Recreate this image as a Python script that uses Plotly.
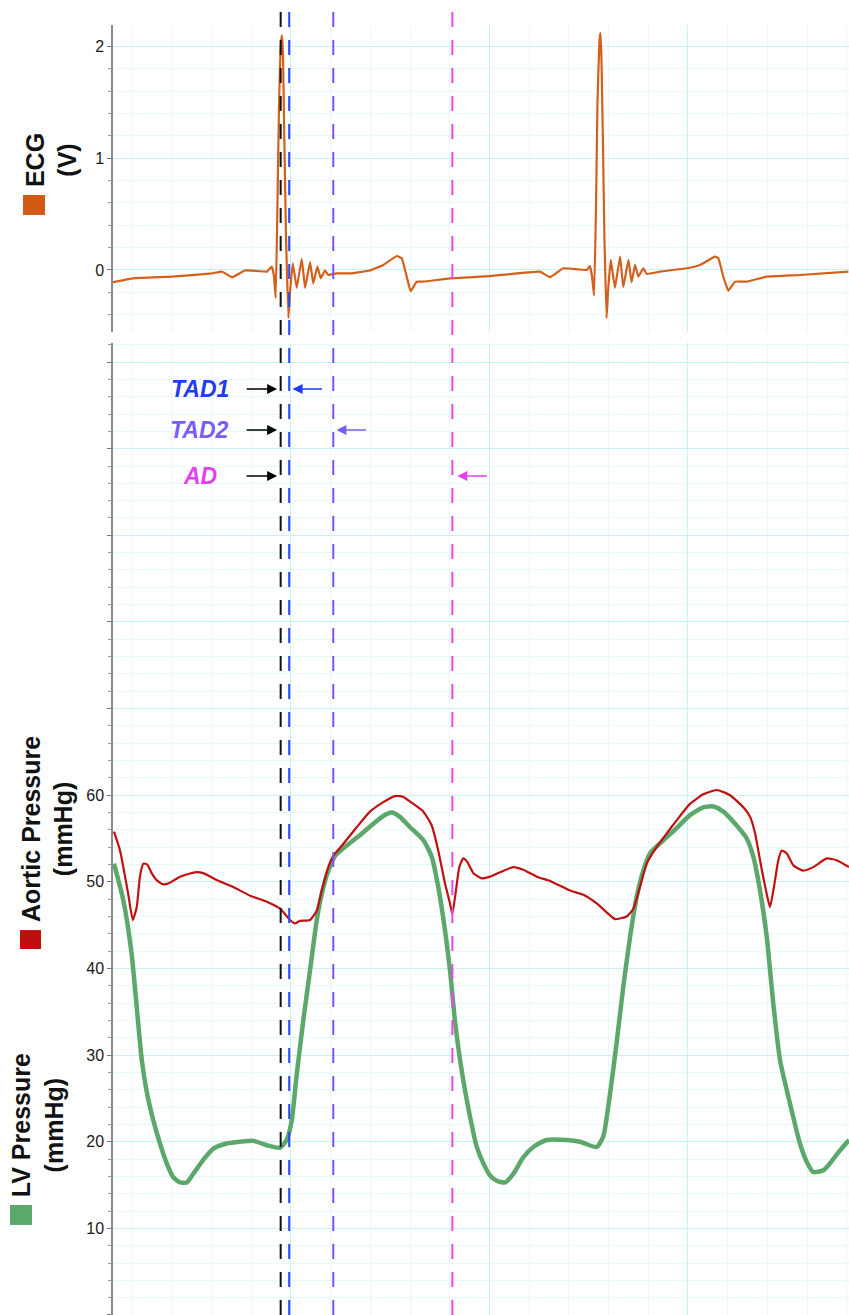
import plotly.graph_objects as go

# ---------------- data (time in ms) ----------------
ecg_t = [10.3, 20.4, 40.1, 60.2, 65.2, 70.3, 76.8, 83.4, 87.9, 90.3, 91.4, 92.3, 93.2, 94.0, 95.0, 95.5,
         96.0, 96.7, 97.5, 98.7, 99.5, 100.9, 102.9, 105.4, 107.1, 109.6, 111.2, 113.3, 115.0, 117.1,
         118.8, 123.0, 129.7, 139.8, 146.5, 153.3, 155.8, 158.3, 160.3, 163.3, 166.7, 180.1, 200.3,
         225.4, 230.5, 237.2, 249.0, 250.6, 251.6, 252.7, 253.7, 254.4, 255.4, 255.9, 256.4, 257.2,
         257.9, 259.0, 259.7, 261.1, 263.2, 265.8, 267.4, 270.0, 271.6, 273.3, 275.0, 277.5, 279.2,
         285.9, 299.4, 306.1, 313.6, 315.3, 317.8, 320.3, 323.7, 329.6, 339.7, 356.4, 380.8]
ecg_v = [-0.11, -0.075, -0.06, -0.03, -0.015, -0.065, -0.005, -0.01, -0.015, 0.03, -0.05, -0.25, 0.6,
         1.5, 2.05, 2.1, 1.9, 1.1, 0.3, -0.43, -0.2, 0.06, -0.16, 0.10, -0.16, 0.07, -0.12, 0.03,
         -0.075, -0.005, -0.045, -0.03, -0.03, -0.005, 0.045, 0.125, 0.105, -0.06, -0.19, -0.105,
         -0.105, -0.075, -0.055, -0.015, -0.065, 0.015, 0.0, 0.035, -0.05, -0.23, 0.6, 1.5, 2.05,
         2.12, 1.9, 1.1, 0.3, -0.43, -0.2, 0.09, -0.16, 0.12, -0.155, 0.09, -0.11, 0.045, -0.06,
         0.015, -0.035, -0.015, 0.015, 0.045, 0.12, 0.105, -0.06, -0.185, -0.105, -0.105, -0.06,
         -0.045, -0.015]

aortic_t = [10.8, 13.9, 18.0, 20.3, 22.3, 23.9, 25.6, 27.6, 29.8, 32.3, 35.7, 39.0, 44.1, 51.6, 55.8,
            62.6, 70.9, 79.4, 87.8, 94.5, 99.5, 102.0, 104.5, 109.6, 113.0, 115.5, 118.8, 121.3,
            126.4, 133.1, 139.8, 146.5, 152.4, 156.6, 161.6, 166.7, 170.9, 174.2, 177.6, 180.1,
            181.3, 183.1, 184.8, 186.8, 188.8, 191.9, 196.1, 200.3, 205.3, 212.0, 217.0, 223.8,
            230.5, 240.6, 247.3, 254.0, 259.9, 263.2, 269.1, 272.5, 275.8, 279.2, 284.2, 289.3,
            294.3, 301.0, 307.7, 314.5, 321.2, 327.9, 331.3, 333.8, 336.3, 339.3, 341.3, 343.3,
            345.5, 347.2, 349.7, 353.1, 358.1, 363.1, 369.9, 374.9, 381.1]
aortic_p = [55.8, 53.6, 48.6, 45.6, 47.1, 50.6, 52.1, 52.0, 51.0, 50.2, 49.7, 49.9, 50.6, 51.1, 51.0,
            50.2, 49.4, 48.4, 47.7, 46.9, 45.6, 45.2, 45.5, 45.6, 46.7, 49.0, 51.7, 53.0, 54.4,
            56.3, 58.1, 59.2, 59.9, 59.8, 59.0, 58.1, 56.5, 53.6, 49.8, 47.5, 46.3, 49.0, 51.7,
            52.7, 52.3, 51.0, 50.4, 50.6, 51.1, 51.7, 51.4, 50.6, 50.1, 49.0, 48.5, 47.5, 46.3,
            45.7, 46.0, 46.9, 49.4, 52.1, 54.0, 55.6, 57.1, 59.0, 60.1, 60.6, 60.0, 58.6, 57.5,
            55.6, 52.5, 49.0, 47.1, 49.4, 52.5, 53.6, 53.3, 51.9, 51.3, 51.7, 52.7, 52.5, 51.7]

lv_t = [10.8, 15.5, 19.7, 21.9, 24.8, 27.3, 30.6, 34.0, 37.4, 40.7, 44.1, 47.5, 50.8, 55.8, 60.9, 67.6,
        74.3, 81.0, 87.8, 94.5, 97.8, 100.4, 102.9, 106.2, 109.6, 113.0, 115.5, 118.8, 122.2, 128.1,
        134.8, 141.5, 146.5, 150.7, 154.9, 160.0, 166.7, 170.9, 174.2, 177.6, 180.1, 182.6, 186.0,
        190.2, 193.6, 196.9, 200.3, 203.6, 207.8, 212.0, 217.0, 222.1, 228.8, 238.9, 245.6, 254.0,
        257.3, 260.7, 264.1, 267.4, 270.8, 274.2, 277.5, 280.9, 287.6, 294.3, 301.0, 307.7, 312.8,
        317.8, 324.5, 329.6, 332.9, 336.3, 339.7, 343.0, 346.4, 351.4, 356.4, 359.8, 363.1, 368.2,
        371.5, 376.6, 381.1]
lv_p = [52.1, 47.9, 41.7, 36.5, 29.5, 25.8, 22.5, 19.8, 17.5, 15.9, 15.3, 15.3, 16.3, 17.9, 19.2, 19.8,
        20.0, 20.1, 19.6, 19.3, 20.2, 22.5, 27.8, 34.0, 39.8, 45.6, 48.6, 51.3, 53.0, 54.2, 55.4,
        56.7, 57.6, 58.0, 57.5, 56.3, 54.8, 52.9, 49.4, 44.4, 39.8, 34.0, 28.2, 22.9, 19.4, 17.5,
        16.1, 15.5, 15.3, 16.3, 18.2, 19.4, 20.2, 20.2, 20.0, 19.4, 20.6, 25.5, 31.5, 37.9, 43.6,
        48.3, 51.3, 53.3, 54.8, 56.2, 57.7, 58.6, 58.7, 58.1, 56.5, 55.0, 52.9, 49.0, 43.6, 35.9,
        29.4, 24.4, 19.8, 17.7, 16.5, 16.7, 17.5, 19.0, 20.2]

# event markers (ms)
event_t = [94.8, 99.1, 121.3, 181.3]
event_colors = ["#111111", "#2a48f2", "#7d52f2", "#ee44ee"]

labels = ["TAD1", "TAD2", "AD"]
label_colors = ["#1f3cf0", "#7b5cf2", "#e43ff0"]
arrow_head_t = [100.8, 122.9, 183.8]   # colored arrow tips (ms)
black_head_t = 93.0

pressure_ticks = list(range(0, 120, 10))
pressure_text = [str(v) if 10 <= v <= 60 else "" for v in pressure_ticks]

X_RANGE = [10.33, 381.12]
MAJOR_GRID = "#c6f1f5"
MINOR_GRID = "#e6fafb"
AX_LINE = "#8a8a8a"
FONT = "Liberation Sans, Arial, sans-serif"

fig = go.Figure()
fig.add_trace(go.Scatter(x=ecg_t, y=ecg_v, mode="lines",
                         line=dict(color="#d35f1a", width=2.2, shape="spline", smoothing=0.3),
                         xaxis="x", yaxis="y", showlegend=False))
fig.add_trace(go.Scatter(x=lv_t, y=lv_p, mode="lines",
                         line=dict(color="#5ca86b", width=4.5, shape="spline", smoothing=0.6),
                         xaxis="x2", yaxis="y2", showlegend=False))
fig.add_trace(go.Scatter(x=aortic_t, y=aortic_p, mode="lines",
                         line=dict(color="#c0100f", width=2.2, shape="spline", smoothing=0.5),
                         xaxis="x2", yaxis="y2", showlegend=False))

xcommon = dict(range=X_RANGE, showticklabels=False, ticks="", showgrid=True, gridcolor=MAJOR_GRID,
               gridwidth=1, tick0=0, dtick=100, zeroline=False,
               minor=dict(dtick=20, tick0=0, showgrid=True, gridcolor=MINOR_GRID, gridwidth=1))

ECG_DOM = [0.7624, 1.0]
PR_DOM = [0.0, 0.7535]

fig.update_layout(
    width=849, height=1315,
    margin=dict(l=113, r=0, t=25, b=0),
    paper_bgcolor="white", plot_bgcolor="white",
    font=dict(family=FONT, size=16, color="#1a1a1a"),
    xaxis=dict(domain=[0, 1], anchor="y", showline=False, **xcommon),
    xaxis2=dict(domain=[0, 1], anchor="y2", matches="x", showline=True, linecolor=AX_LINE, linewidth=2, **xcommon),
    yaxis=dict(domain=ECG_DOM, anchor="x", range=[-0.551, 2.193], tickmode="array", tickvals=[0, 1, 2],
               ticks="outside", ticklen=4, tickcolor="#777", showline=True, linecolor=AX_LINE, linewidth=1.5,
               showgrid=True, gridcolor=MAJOR_GRID, zeroline=False,
               tickfont=dict(size=16, color="#1a1a1a"),
               minor=dict(dtick=0.2, tick0=0, ticks="outside", ticklen=3, tickcolor="#999",
                          showgrid=True, gridcolor=MINOR_GRID)),
    yaxis2=dict(domain=PR_DOM, anchor="x2", range=[0, 112.2], tickmode="array", tickvals=pressure_ticks,
                ticktext=pressure_text, ticks="outside", ticklen=4, tickcolor="#777", showline=True,
                linecolor=AX_LINE, linewidth=1.5, showgrid=True, gridcolor=MAJOR_GRID, zeroline=False,
                tickfont=dict(size=16, color="#1a1a1a"),
                minor=dict(dtick=2, tick0=0, ticks="outside", ticklen=3, tickcolor="#999",
                           showgrid=True, gridcolor=MINOR_GRID)),
)

# vertical dashed event lines spanning both panels
for t, c in zip(event_t, event_colors):
    fig.add_shape(type="line", xref="x", yref="paper", x0=t, x1=t, y0=0, y1=1.0124,
                  line=dict(color=c, width=2, dash="15px,13px"), layer="above")

# y-axis titles with colored squares
titles = [
    ("<b>ECG<br>(V)</b>", -0.0842, 0.8953, "#d35a14", (-0.1223, -0.0924, 0.8527, 0.8682)),
    ("<b>Aortic Pressure<br>(mmHg)</b>", -0.0897, 0.3767, "#c00d0d", (-0.1264, -0.0978, 0.2837, 0.2984)),
    ("<b>LV Pressure<br>(mmHg)</b>", -0.1016, 0.1473, "#5ba86b", (-0.1399, -0.1101, 0.0698, 0.0853)),
]
for txt, x, y, col, sq in titles:
    fig.add_annotation(text=txt, xref="paper", yref="paper", x=x, y=y, textangle=-90,
                       xanchor="center", yanchor="middle", showarrow=False,
                       font=dict(family=FONT, size=25, color="#111"))
    fig.add_shape(type="rect", xref="paper", yref="paper", x0=sq[0], x1=sq[1], y0=sq[2], y1=sq[3],
                  line=dict(width=0), fillcolor=col)

# interval labels and arrows
label_y = [0.7178, 0.6860, 0.6504]
for lab, col, ly, ht in zip(labels, label_colors, label_y, arrow_head_t):
    fig.add_annotation(text="<b><i>%s</i></b>" % lab, xref="paper", yref="paper", x=0.1182, y=ly,
                       xanchor="center", yanchor="middle", showarrow=False,
                       font=dict(family=FONT, size=23, color=col))
    # black arrow pointing right to the onset line
    fig.add_annotation(text="", xref="x2", yref="paper", x=black_head_t, y=ly, ax=-32, ay=0,
                       showarrow=True, arrowhead=2, arrowsize=1.25, arrowwidth=1.6, arrowcolor="#000",
                       standoff=0, startstandoff=0)
    # colored arrow pointing left to the end line
    fig.add_annotation(text="", xref="x2", yref="paper", x=ht, y=ly, ax=31, ay=0,
                       showarrow=True, arrowhead=2, arrowsize=1.25, arrowwidth=1.6, arrowcolor=col,
                       standoff=0, startstandoff=0)

fig.write_html("out.html")
